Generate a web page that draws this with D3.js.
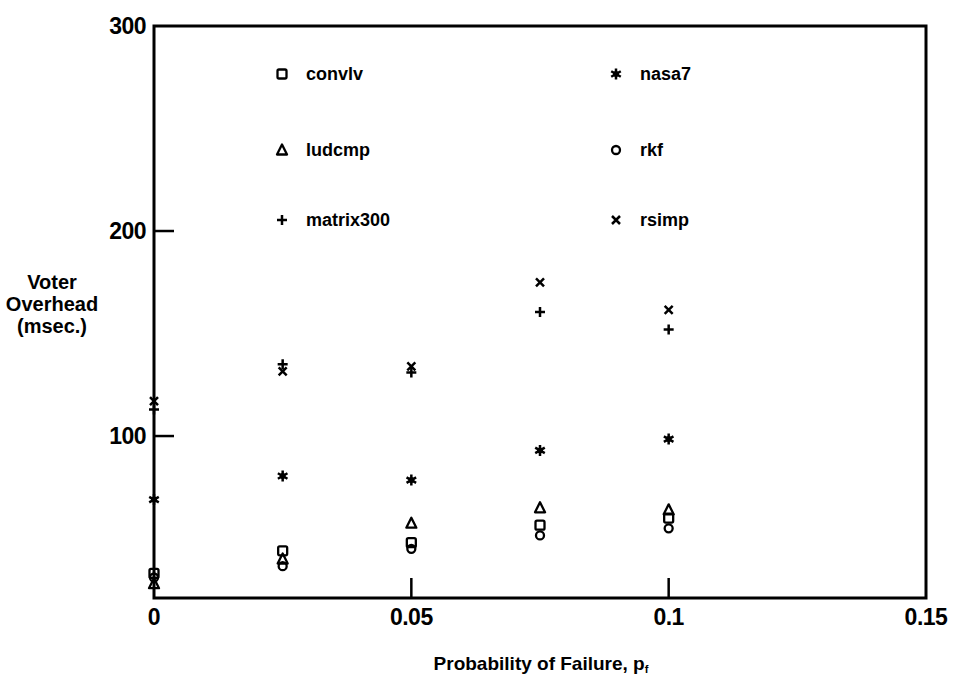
<!DOCTYPE html>
<html>
<head>
<meta charset="utf-8">
<script src="https://cdn.jsdelivr.net/npm/d3@7"></script>
<style>
  html, body { margin: 0; padding: 0; background: #fff; }
  svg { display: block; }
  text { font-family: "Liberation Sans", Arial, sans-serif; font-weight: bold; fill: #000; }
</style>
</head>
<body>
<svg id="chart" width="955" height="688"></svg>
<script>
// Failure probabilities at which each benchmark was measured
const failureProb = [0, 0.025, 0.05, 0.075, 0.1];

// Voter overhead (msec.) per benchmark
const convlv    = [33, 44, 48, 56.5, 60];
const ludcmp    = [28, 40, 57.5, 65, 64];
const matrix300 = [113, 135, 131, 160.5, 152];
const nasa7     = [69, 80.5, 78.5, 93, 98.5];
const rkf       = [31, 36.5, 45, 51.5, 55];
const rsimp     = [117, 131.5, 134, 175, 161.5];

const xTicks = [0, 0.05, 0.1, 0.15];
const xTickLabels = ["0", "0.05", "0.1", "0.15"];
const yTicks = [100, 200, 300];
const yTickLabels = ["100", "200", "300"];

const series = [
  { name: "convlv",    values: convlv,    marker: "square" },
  { name: "ludcmp",    values: ludcmp,    marker: "triangle" },
  { name: "matrix300", values: matrix300, marker: "plus" },
  { name: "nasa7",     values: nasa7,     marker: "asterisk" },
  { name: "rkf",       values: rkf,       marker: "circle" },
  { name: "rsimp",     values: rsimp,     marker: "cross" }
];

const svg = d3.select("#chart");
const plotLeft = 154, plotRight = 926, plotTop = 26, plotBottom = 598;

const x = d3.scaleLinear().domain([0, 0.15]).range([plotLeft, plotRight]);
const y = d3.scaleLinear().domain([21, 300]).range([plotBottom, plotTop]);

// Plot frame
svg.append("rect")
  .attr("x", plotLeft).attr("y", plotTop)
  .attr("width", plotRight - plotLeft).attr("height", plotBottom - plotTop)
  .attr("fill", "none").attr("stroke", "#000").attr("stroke-width", 3);

// Inward tick marks
svg.selectAll(".ytick").data(yTicks.filter(d => d < 300)).enter().append("line")
  .attr("x1", plotLeft).attr("x2", plotLeft + 20)
  .attr("y1", d => y(d)).attr("y2", d => y(d))
  .attr("stroke", "#000").attr("stroke-width", 2.5);
svg.selectAll(".xtick").data(xTicks.filter(d => d > 0 && d < 0.15)).enter().append("line")
  .attr("x1", d => x(d)).attr("x2", d => x(d))
  .attr("y1", plotBottom).attr("y2", plotBottom - 20)
  .attr("stroke", "#000").attr("stroke-width", 2.5);

// Tick labels
svg.selectAll(".ylab").data(yTicks).enter().append("text")
  .attr("x", plotLeft - 8).attr("y", d => y(d))
  .attr("dy", "0.36em").attr("text-anchor", "end")
  .attr("font-size", 23).style("letter-spacing", "-0.5px")
  .text((d, i) => yTickLabels[i]);
svg.selectAll(".xlab").data(xTicks).enter().append("text")
  .attr("x", d => x(d)).attr("y", 617)
  .attr("dy", "0.36em").attr("text-anchor", "middle")
  .attr("font-size", 23).style("letter-spacing", "-0.5px")
  .text((d, i) => xTickLabels[i]);

// Axis titles
const yTitle = svg.append("text").attr("text-anchor", "middle").attr("font-size", 20);
["Voter", "Overhead", "(msec.)"].forEach((s, i) => {
  yTitle.append("tspan").attr("x", 52).attr("y", 289 + i * 22).text(s);
});
const xTitle = svg.append("text")
  .attr("x", 541).attr("y", 670).attr("text-anchor", "middle").attr("font-size", 19);
xTitle.append("tspan").text("Probability of Failure, p");
xTitle.append("tspan").attr("font-size", 11).attr("dy", 3).text("f");

// Marker drawing
function drawMarker(g, type) {
  const s = "#000";
  switch (type) {
    case "square":
      g.append("rect").attr("x", -4.5).attr("y", -4.5).attr("width", 9).attr("height", 9)
        .attr("rx", 1.5).attr("fill", "none").attr("stroke", s).attr("stroke-width", 2.3);
      break;
    case "triangle":
      g.append("path").attr("d", "M0,-5.5L5,4.5L-5,4.5Z")
        .attr("fill", "none").attr("stroke", s).attr("stroke-width", 2.3).attr("stroke-linejoin", "round");
      break;
    case "circle":
      g.append("circle").attr("r", 4).attr("fill", "none").attr("stroke", s).attr("stroke-width", 2.3);
      break;
    case "plus":
      g.append("path").attr("d", "M-5,0H5M0,-5V5").attr("stroke", s).attr("stroke-width", 2.5);
      break;
    case "cross":
      g.append("path").attr("d", "M-4,-4L4,4M-4,4L4,-4").attr("stroke", s).attr("stroke-width", 2.5);
      break;
    case "asterisk":
      g.append("path").attr("d", "M0,-5.5V5.5M-4.8,-2.75L4.8,2.75M-4.8,2.75L4.8,-2.75")
        .attr("stroke", s).attr("stroke-width", 2.5);
      g.append("circle").attr("r", 3).attr("fill", s);
      break;
  }
}

// Data points
series.forEach(sr => {
  const pts = svg.append("g").attr("class", "series-" + sr.name);
  sr.values.forEach((v, i) => {
    const g = pts.append("g").attr("transform", `translate(${x(failureProb[i])},${y(v)})`);
    drawMarker(g, sr.marker);
  });
});

// Legend: two columns of three entries
const legendRows = [74, 150, 220];
const legendCols = [282, 616];
series.forEach((sr, i) => {
  const col = Math.floor(i / 3), row = i % 3;
  const g = svg.append("g").attr("transform", `translate(${legendCols[col]},${legendRows[row]})`);
  drawMarker(g, sr.marker);
  g.append("text").attr("x", 24).attr("y", 0).attr("dy", "0.35em")
    .attr("font-size", 18).text(sr.name);
});
</script>
</body>
</html>
